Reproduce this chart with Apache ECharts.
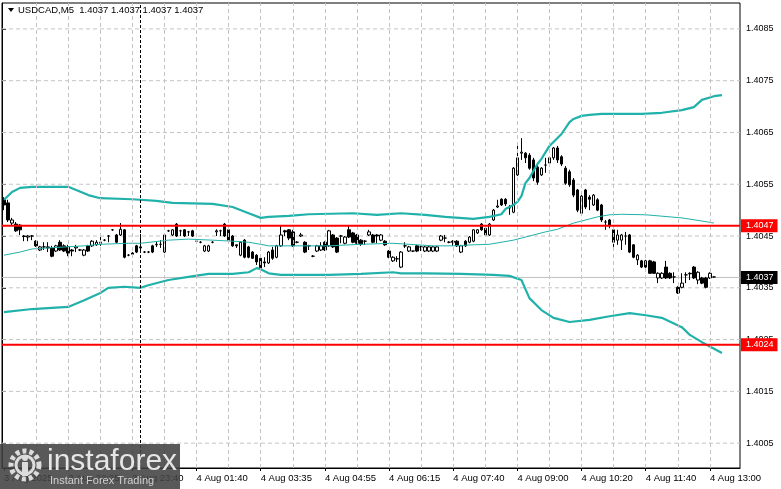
<!DOCTYPE html>
<html><head><meta charset="utf-8">
<script src="https://cdn.jsdelivr.net/npm/echarts@6/dist/echarts.min.js"></script>
<style>html,body{margin:0;padding:0;background:#fff}#c{width:781px;height:489px}</style>
</head><body><div id="c"></div>
<script>
const openP=[1.40520,1.40514,1.40475,1.40473,1.40471,1.40450,1.40448,1.40450,1.40440,1.40423,
1.40429,1.40429,1.40427,1.40421,1.40438,1.40431,1.40429,1.40423,1.40427,1.40423,
1.40413,1.40431,1.40431,1.40433,1.40436,1.40442,1.40450,1.40462,1.40452,1.40452,
1.40462,1.40413,1.40417,1.40431,1.40427,1.40419,1.40419,1.40431,1.40433,1.40434,
1.40419,1.40460,1.40452,1.40473,1.40460,1.40462,1.40458,1.40460,1.40440,1.40438,
1.40421,1.40421,1.40438,1.40458,1.40460,1.40473,1.40462,1.40450,1.40433,1.40413,
1.40442,1.40429,1.40419,1.40413,1.40407,1.40400,1.40398,1.40423,1.40409,1.40431,
1.40460,1.40462,1.40458,1.40438,1.40450,1.40438,1.40431,1.40411,1.40421,1.40423,
1.40438,1.40431,1.40452,1.40446,1.40450,1.40436,1.40462,1.40456,1.40452,1.40442,
1.40440,1.40452,1.40452,1.40452,1.40442,1.40440,1.40421,1.40402,1.40406,1.40390,
1.40431,1.40421,1.40421,1.40431,1.40429,1.40421,1.40421,1.40421,1.40421,1.40442,
1.40446,1.40438,1.40440,1.40440,1.40419,1.40440,1.40438,1.40440,1.40456,1.40473,
1.40465,1.40452,1.40481,1.40506,1.40521,1.40521,1.40506,1.40496,1.40568,1.40610,
1.40610,1.40606,1.40597,1.40583,1.40568,1.40587,1.40591,1.40601,1.40620,1.40603,
1.40581,1.40574,1.40558,1.40539,1.40494,1.40539,1.40525,1.40510,1.40520,1.40510,
1.40477,1.40481,1.40462,1.40442,1.40442,1.40450,1.40452,1.40433,1.40404,1.40402,
1.40402,1.40402,1.40400,1.40369,1.40369,1.40390,1.40378,1.40371,1.40351,1.40351,
1.40375,1.40378,1.40390,1.40365,1.40369,1.40369,1.40369,1.40371];
const closeP=[1.40510,1.40481,1.40481,1.40460,1.40462,1.40449,1.40450,1.40450,1.40431,1.40429,
1.40429,1.40427,1.40411,1.40431,1.40423,1.40421,1.40417,1.40421,1.40429,1.40423,
1.40423,1.40421,1.40440,1.40438,1.40438,1.40442,1.40450,1.40462,1.40438,1.40463,
1.40409,1.40413,1.40415,1.40419,1.40429,1.40419,1.40419,1.40419,1.40434,1.40434,
1.40452,1.40460,1.40462,1.40450,1.40460,1.40450,1.40458,1.40450,1.40440,1.40438,
1.40431,1.40431,1.40438,1.40460,1.40460,1.40450,1.40442,1.40431,1.40431,1.40438,
1.40409,1.40409,1.40407,1.40400,1.40388,1.40398,1.40419,1.40407,1.40431,1.40452,
1.40458,1.40446,1.40431,1.40438,1.40452,1.40419,1.40431,1.40411,1.40431,1.40431,
1.40423,1.40460,1.40429,1.40419,1.40450,1.40448,1.40448,1.40438,1.40436,1.40434,
1.40440,1.40458,1.40438,1.40450,1.40452,1.40433,1.40409,1.40409,1.40406,1.40419,
1.40431,1.40429,1.40421,1.40421,1.40429,1.40429,1.40429,1.40429,1.40429,1.40450,
1.40446,1.40438,1.40438,1.40431,1.40431,1.40431,1.40448,1.40462,1.40462,1.40462,
1.40452,1.40473,1.40500,1.40508,1.40510,1.40512,1.40504,1.40581,1.40601,1.40612,
1.40601,1.40581,1.40562,1.40554,1.40581,1.40587,1.40601,1.40620,1.40597,1.40589,
1.40552,1.40549,1.40529,1.40500,1.40527,1.40506,1.40521,1.40529,1.40500,1.40481,
1.40477,1.40471,1.40438,1.40452,1.40452,1.40450,1.40419,1.40409,1.40413,1.40390,
1.40390,1.40378,1.40378,1.40378,1.40378,1.40369,1.40369,1.40371,1.40340,1.40359,
1.40375,1.40377,1.40369,1.40380,1.40359,1.40351,1.40378,1.40371];
const lowP=[1.40500,1.40477,1.40471,1.40458,1.40452,1.40440,1.40440,1.40442,1.40429,1.40421,
1.40423,1.40419,1.40409,1.40419,1.40421,1.40419,1.40411,1.40411,1.40419,1.40421,
1.40411,1.40419,1.40429,1.40431,1.40431,1.40440,1.40438,1.40460,1.40436,1.40450,
1.40407,1.40411,1.40409,1.40417,1.40419,1.40417,1.40417,1.40417,1.40429,1.40427,
1.40417,1.40458,1.40450,1.40448,1.40450,1.40448,1.40450,1.40448,1.40438,1.40436,
1.40419,1.40419,1.40436,1.40450,1.40450,1.40448,1.40440,1.40429,1.40427,1.40411,
1.40407,1.40407,1.40406,1.40394,1.40380,1.40390,1.40396,1.40404,1.40407,1.40429,
1.40450,1.40442,1.40429,1.40436,1.40448,1.40417,1.40423,1.40409,1.40419,1.40421,
1.40421,1.40429,1.40427,1.40417,1.40436,1.40434,1.40446,1.40436,1.40434,1.40431,
1.40433,1.40450,1.40436,1.40436,1.40440,1.40431,1.40407,1.40400,1.40400,1.40388,
1.40427,1.40419,1.40419,1.40419,1.40421,1.40419,1.40419,1.40419,1.40419,1.40440,
1.40438,1.40436,1.40431,1.40429,1.40417,1.40429,1.40436,1.40438,1.40454,1.40460,
1.40450,1.40450,1.40479,1.40504,1.40508,1.40508,1.40491,1.40494,1.40566,1.40597,
1.40591,1.40578,1.40556,1.40549,1.40566,1.40572,1.40589,1.40597,1.40591,1.40585,
1.40549,1.40545,1.40525,1.40496,1.40491,1.40502,1.40500,1.40508,1.40498,1.40477,
1.40462,1.40465,1.40429,1.40433,1.40423,1.40433,1.40417,1.40407,1.40394,1.40388,
1.40388,1.40377,1.40377,1.40359,1.40367,1.40367,1.40367,1.40359,1.40338,1.40349,
1.40359,1.40365,1.40367,1.40357,1.40357,1.40349,1.40367,1.40369];
const highP=[1.40525,1.40520,1.40485,1.40477,1.40473,1.40452,1.40452,1.40452,1.40442,1.40431,
1.40438,1.40438,1.40431,1.40433,1.40442,1.40434,1.40433,1.40425,1.40433,1.40425,
1.40425,1.40433,1.40442,1.40442,1.40448,1.40444,1.40452,1.40463,1.40454,1.40475,
1.40463,1.40415,1.40419,1.40433,1.40454,1.40421,1.40421,1.40433,1.40440,1.40442,
1.40454,1.40462,1.40463,1.40475,1.40462,1.40463,1.40460,1.40462,1.40442,1.40440,
1.40433,1.40433,1.40440,1.40463,1.40462,1.40475,1.40463,1.40452,1.40433,1.40440,
1.40444,1.40431,1.40421,1.40415,1.40409,1.40409,1.40421,1.40429,1.40433,1.40471,
1.40462,1.40463,1.40462,1.40440,1.40456,1.40440,1.40433,1.40413,1.40433,1.40438,
1.40440,1.40462,1.40454,1.40448,1.40452,1.40450,1.40471,1.40458,1.40454,1.40444,
1.40442,1.40462,1.40454,1.40454,1.40454,1.40442,1.40423,1.40411,1.40411,1.40421,
1.40438,1.40431,1.40421,1.40433,1.40431,1.40431,1.40431,1.40431,1.40431,1.40452,
1.40452,1.40440,1.40442,1.40442,1.40433,1.40442,1.40450,1.40463,1.40463,1.40475,
1.40467,1.40475,1.40502,1.40520,1.40523,1.40523,1.40510,1.40583,1.40630,1.40639,
1.40612,1.40610,1.40601,1.40587,1.40583,1.40601,1.40603,1.40622,1.40624,1.40606,
1.40585,1.40578,1.40562,1.40541,1.40529,1.40541,1.40529,1.40531,1.40523,1.40512,
1.40481,1.40483,1.40465,1.40462,1.40454,1.40458,1.40454,1.40434,1.40415,1.40404,
1.40404,1.40404,1.40402,1.40380,1.40380,1.40402,1.40380,1.40380,1.40353,1.40378,
1.40380,1.40380,1.40392,1.40382,1.40371,1.40371,1.40380,1.40371];

const upperBand=[[0,1.40520],[2,1.40535],[4,1.40543],[7,1.40545],[16,1.40545],[18,1.40539],[21,1.40529],[24,1.40523],[32,1.40521],[38,1.40518],[42,1.40514],[52,1.40512],[57,1.40506],[61,1.40494],[64,1.40485],[66,1.40487],[71,1.40489],[76,1.40492],[87,1.40494],[93,1.40491],[99,1.40494],[105,1.40491],[110,1.40487],[117,1.40483],[121,1.40487],[124,1.40492],[125,1.40502],[127,1.40510],[128,1.40516],[129,1.40527],[130,1.40552],[131,1.40562],[133,1.40589],[134,1.40599],[136,1.40624],[139,1.40647],[141,1.40670],[142,1.40676],[144,1.40682],[146,1.40684],[149,1.40686],[154,1.40686],[159,1.40686],[164,1.40688],[169,1.40693],[172,1.40699],[174,1.40713],[177,1.40720],[179,1.40722]];
const middleBand=[[0,1.40413],[4,1.40419],[7,1.40425],[11,1.40427],[20,1.40431],[24,1.40434],[31,1.40436],[34,1.40436],[41,1.40442],[46,1.40444],[52,1.40442],[57,1.40440],[61,1.40438],[64,1.40434],[66,1.40431],[72,1.40431],[81,1.40431],[89,1.40434],[97,1.40436],[101,1.40434],[107,1.40431],[112,1.40431],[117,1.40433],[121,1.40434],[127,1.40442],[129,1.40446],[135,1.40458],[138,1.40463],[142,1.40475],[146,1.40483],[148,1.40487],[151,1.40491],[154,1.40492],[160,1.40491],[169,1.40485],[174,1.40479],[177,1.40475]];
const lowerBand=[[0,1.40303],[7,1.40309],[16,1.40313],[20,1.40326],[24,1.40340],[26,1.40350],[30,1.40352],[34,1.40350],[36,1.40355],[41,1.40365],[46,1.40371],[51,1.40377],[57,1.40377],[61,1.40380],[63,1.40388],[64,1.40386],[66,1.40378],[69,1.40375],[81,1.40375],[89,1.40377],[97,1.40380],[99,1.40378],[105,1.40378],[114,1.40377],[122,1.40375],[126,1.40373],[129,1.40365],[131,1.40330],[134,1.40307],[137,1.40292],[141,1.40284],[146,1.40288],[151,1.40295],[156,1.40301],[160,1.40297],[164,1.40292],[169,1.40274],[171,1.40259],[174,1.40245],[179,1.40224]];

const slotCount=184;
const slots=Array.from({length:slotCount},(_,i)=>String(i));
const xTickSlots=[0,16,32,48,64,80,96,112,128,144,160,176];
const xTickLabels=['3 Aug 2025','3 Aug 22:25','3 Aug 23:40','4 Aug 01:40','4 Aug 03:35','4 Aug 04:55','4 Aug 06:15','4 Aug 07:40','4 Aug 09:00','4 Aug 10:20','4 Aug 11:40','4 Aug 13:00'];
const gridSlots=[8,16,24,32,40,48,56,64,72,80,88,96,104,112,120,128,136,144,152,160,168,176];
const yTickValues=[1.4005,1.4015,1.4025,1.4035,1.4045,1.4055,1.4065,1.4075,1.4085];
const levelLines=[1.4047,1.4024];
const lastPrice=1.4037;
const separatorSlot=34;

const FONT='"Liberation Sans", Arial, sans-serif';
const labelMap={}; xTickSlots.forEach((s,k)=>labelMap[s]=xTickLabels[k]);
const tickSet=new Set(xTickSlots);
const candles=openP.map((o,i)=>[o,closeP[i],lowP[i],highP[i]]);
const TEAL='#20b2aa';
const gridLineStyle={color:'#c4c4c4',width:1,type:[4,3]};

// full-width horizontal lines on a hidden 0..1 value x axis
function hLine(v,style,z){
  return {type:'line',xAxisIndex:1,yAxisIndex:0,data:[[0,v],[1,v]],symbol:'none',showSymbol:false,silent:true,z:z,lineStyle:style,animation:false};
}

const chart=echarts.init(document.getElementById('c'),null,{renderer:'canvas'});
const series=[];
yTickValues.forEach(v=>series.push(hLine(v,gridLineStyle,1)));
series.push({type:'line',data:middleBand,z:1,silent:true,showSymbol:false,symbol:'none',lineStyle:{opacity:0,width:0},
  markLine:{silent:true,symbol:['none','none'],animation:false,label:{show:false},lineStyle:gridLineStyle,
    data:gridSlots.map(s=>({xAxis:String(s)}))
      .concat([{xAxis:String(separatorSlot),lineStyle:{color:'#000',width:1,type:[3,2]}}])}});
series.push(hLine(lastPrice,{color:'#c0c0c0',width:1,type:'solid'},2));
series.push({type:'candlestick',data:candles,z:3,barWidth:3,
  itemStyle:{color:'#fff',color0:'#000',borderColor:'#000',borderColor0:'#000',borderColorDoji:'#000',borderWidth:1}});
series.push({type:'line',data:middleBand,z:4,showSymbol:false,symbol:'none',lineStyle:{color:TEAL,width:1}});
series.push({type:'line',data:upperBand,z:4,showSymbol:false,symbol:'none',lineStyle:{color:TEAL,width:2.2}});
series.push({type:'line',data:lowerBand,z:4,showSymbol:false,symbol:'none',lineStyle:{color:TEAL,width:2.2}});
levelLines.forEach(v=>series.push(hLine(v,{color:'#ff0000',width:2,type:'solid'},5)));

chart.setOption({
  animation:false,
  backgroundColor:'#fff',
  grid:{left:2,right:41,top:3,bottom:21,show:true,borderColor:'#000',borderWidth:1,backgroundColor:'#fff',containLabel:false,outerBoundsMode:'none'},
  xAxis:[
   {type:'category',data:slots,boundaryGap:true,
    axisLine:{show:true,lineStyle:{color:'#000',width:1}},
    axisTick:{show:true,alignWithLabel:true,interval:(i)=>tickSet.has(i),length:3,lineStyle:{color:'#000'}},
    axisLabel:{show:true,interval:0,formatter:(v,i)=>labelMap[i]||'',align:'left',margin:5,color:'#000',fontFamily:FONT,fontSize:9.5},
    splitLine:{show:false}},
   {type:'value',min:0,max:1,show:false,position:'bottom',splitLine:{show:false}}
  ],
  yAxis:[
    {type:'value',position:'right',min:1.40002,max:1.409,
     axisLine:{show:true,lineStyle:{color:'#000'}},
     axisTick:{show:true,customValues:yTickValues,length:4,lineStyle:{color:'#000'}},
     axisLabel:{customValues:yTickValues,formatter:v=>v.toFixed(4),color:'#000',fontSize:9,margin:6,fontFamily:FONT},
     splitLine:{show:false}},
    {type:'value',position:'right',min:1.40002,max:1.409,
     axisLine:{show:false},axisTick:{show:false},splitLine:{show:false},
     axisLabel:{customValues:[levelLines[0],levelLines[1],lastPrice],margin:1,
       formatter:v=>(Math.abs(v-lastPrice)<1e-7?'{k|':'{r|')+v.toFixed(4)+'}',
       rich:{r:{backgroundColor:'#ff0000',color:'#fff',fontSize:9,fontFamily:FONT,padding:[2,4,2,5]},
             k:{backgroundColor:'#000',color:'#fff',fontSize:9,fontFamily:FONT,padding:[2,4,2,5]}}}}
  ],
  series:series,
  graphic:[
    {type:'polygon',shape:{points:[[8,8],[14,8],[11,12]]},style:{fill:'#000'},z:50},
    {type:'text',x:18,y:10,style:{text:'USDCAD,M5  1.4037 1.4037 1.4037 1.4037',font:'9.5px '+FONT,fill:'#000',verticalAlign:'middle'},z:50},
    {type:'rect',shape:{x:0,y:444,width:180,height:45},style:{fill:'rgba(66,66,66,0.88)'},z:100},
    {type:'circle',shape:{cx:25,cy:465,r:14},style:{fill:'none',stroke:'#dcdcdc',lineWidth:5,lineDash:[4,3]},z:101},
    {type:'circle',shape:{cx:25,cy:465,r:9},style:{fill:'none',stroke:'#dcdcdc',lineWidth:3},z:101},
    {type:'rect',shape:{x:22,y:462,width:6,height:14},style:{fill:'#dcdcdc'},z:101},
    {type:'circle',shape:{cx:25,cy:458,r:3},style:{fill:'#dcdcdc'},z:101},
    {type:'text',x:47,y:462,style:{text:'instaforex',font:'30px '+FONT,fill:'#e6e6e6',verticalAlign:'middle'},z:101},
    {type:'text',x:50,y:481,style:{text:'Instant Forex Trading',font:'11px '+FONT,fill:'#d0d0d0',verticalAlign:'middle'},z:101}
  ]
});
</script></body></html>
